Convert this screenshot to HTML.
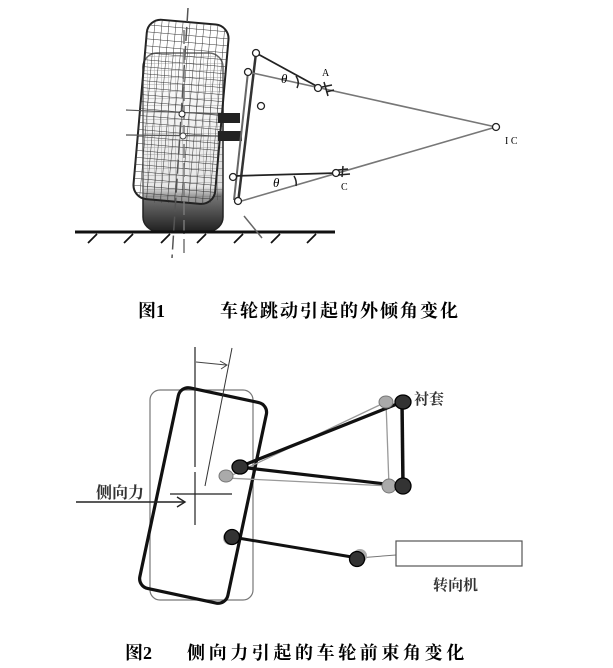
<!DOCTYPE html>
<html><head><meta charset="utf-8"><style>
body{margin:0;background:#fff;width:613px;height:668px;overflow:hidden}
svg{display:block}
text{font-family:"Liberation Serif","Noto Serif CJK SC",serif}
</style></head><body>
<svg width="613" height="668" viewBox="0 0 613 668" xmlns="http://www.w3.org/2000/svg">
<defs>
<pattern id="grid" width="7" height="7" patternUnits="userSpaceOnUse">
<path d="M0 0H7M0 0V7" stroke="#333" stroke-width="1"/>
</pattern>
<linearGradient id="tg" x1="0" y1="0" x2="0" y2="1">
<stop offset="0" stop-color="#fff"/><stop offset="0.75" stop-color="#ddd"/><stop offset="0.8" stop-color="#777"/><stop offset="1" stop-color="#222"/>
</linearGradient>
</defs>
<!-- Figure 1 -->
<rect x="143" y="53" width="80" height="178" rx="14" fill="url(#tg)" stroke="#222" stroke-width="1.5"/>
<rect x="143" y="53" width="80" height="150" rx="14" fill="url(#grid)" opacity="0.6"/>
<g transform="rotate(5 183 112)">
<rect x="140" y="22" width="82" height="180" rx="14" fill="#fff" fill-opacity="0.3" stroke="#222" stroke-width="2"/>
<rect x="140" y="22" width="82" height="180" rx="14" fill="url(#grid)"/>
</g>
<line x1="188" y1="8" x2="172" y2="258" stroke="#555" stroke-width="1.5" stroke-dasharray="14 5"/>
<line x1="184" y1="30" x2="184" y2="258" stroke="#777" stroke-width="1.5" stroke-dasharray="14 5"/>
<line x1="126" y1="110" x2="218" y2="114" stroke="#555" stroke-width="1.2"/>
<line x1="126" y1="135" x2="218" y2="136" stroke="#555" stroke-width="1.2"/>
<circle cx="182" cy="114" r="3" fill="#fff" stroke="#222"/>
<circle cx="183" cy="136" r="3" fill="#fff" stroke="#444"/>
<rect x="218" y="113" width="22" height="10" fill="#222"/>
<rect x="218" y="131" width="24" height="10" fill="#222"/>
<line x1="75" y1="232" x2="335" y2="232" stroke="#111" stroke-width="3"/>
<g stroke="#111" stroke-width="1.8">
<line x1="97" y1="234" x2="88" y2="243"/><line x1="133" y1="234" x2="124" y2="243"/><line x1="170" y1="234" x2="161" y2="243"/><line x1="206" y1="234" x2="197" y2="243"/><line x1="243" y1="234" x2="234" y2="243"/><line x1="280" y1="234" x2="271" y2="243"/><line x1="316" y1="234" x2="307" y2="243"/>
</g>
<line x1="244" y1="216" x2="262" y2="238" stroke="#666" stroke-width="1.5"/>
<line x1="256" y1="53" x2="238" y2="203" stroke="#333" stroke-width="2.5"/>
<line x1="248" y1="72" x2="234" y2="200" stroke="#666" stroke-width="2"/>
<line x1="256" y1="53" x2="320" y2="88" stroke="#222" stroke-width="1.8"/>
<line x1="248" y1="72" x2="496" y2="127" stroke="#777" stroke-width="1.6"/>
<line x1="233" y1="176" x2="338" y2="173" stroke="#222" stroke-width="1.8"/>
<line x1="238" y1="202" x2="496" y2="127" stroke="#777" stroke-width="1.6"/>
<path d="M296 76 Q300 82 297 88" fill="none" stroke="#222" stroke-width="1.5"/>
<path d="M294 176 Q297 181 296 186" fill="none" stroke="#222" stroke-width="1.5"/>
<text x="281" y="83" font-size="13" font-style="italic">θ</text>
<text x="273" y="187" font-size="13" font-style="italic">θ</text>
<circle cx="256" cy="53" r="3.5" fill="#fff" stroke="#222" stroke-width="1.3"/>
<circle cx="248" cy="72" r="3.5" fill="#fff" stroke="#222" stroke-width="1.3"/>
<circle cx="261" cy="106" r="3.5" fill="#fff" stroke="#222" stroke-width="1.3"/>
<circle cx="233" cy="177" r="3.5" fill="#fff" stroke="#222" stroke-width="1.3"/>
<circle cx="238" cy="201" r="3.5" fill="#fff" stroke="#222" stroke-width="1.3"/>
<circle cx="318" cy="88" r="3.5" fill="#fff" stroke="#222" stroke-width="1.3"/>
<circle cx="336" cy="173" r="3.5" fill="#fff" stroke="#222" stroke-width="1.3"/>
<circle cx="496" cy="127" r="3.5" fill="#fff" stroke="#222" stroke-width="1.3"/>
<path d="M324 82 L328 96 M322 87 L332 85 M326 92 L334 90" stroke="#222" stroke-width="1.5"/>
<path d="M343 166 L342 177 M338 170 L348 169 M338 175 L350 174" stroke="#222" stroke-width="1.5"/>
<text x="322" y="76" font-size="10">A</text>
<text x="341" y="190" font-size="10">C</text>
<text x="505" y="144" font-size="10">I C</text>
<text x="138" y="317" font-size="18" font-weight="bold">图1<tspan x="220" letter-spacing="2">车轮跳动引起的外倾角变化</tspan></text>
<!-- Figure 2 -->
<rect x="150" y="390" width="103" height="210" rx="10" fill="none" stroke="#777" stroke-width="1.2"/>
<rect x="158" y="393" width="90" height="205" rx="10" fill="none" stroke="#111" stroke-width="3.2" transform="rotate(12 203 496)"/>
<line x1="195" y1="347" x2="195" y2="467" stroke="#222" stroke-width="1.2"/>
<line x1="195" y1="472" x2="195" y2="525" stroke="#222" stroke-width="1.2"/>
<line x1="232" y1="348" x2="205" y2="486" stroke="#333" stroke-width="1"/>
<path d="M196 362 L226 365" stroke="#444" stroke-width="1" fill="none"/>
<path d="M220 361 L227 365 L221 369" stroke="#444" stroke-width="1" fill="none"/>
<line x1="170" y1="494" x2="232" y2="494" stroke="#222" stroke-width="1.2"/>
<line x1="76" y1="502" x2="184" y2="502" stroke="#222" stroke-width="1.4"/>
<path d="M177 497 L185 502 L177 507" stroke="#222" stroke-width="1.4" fill="none"/>
<text x="96" y="498" font-size="16" font-family="Liberation Sans,Noto Sans CJK SC,sans-serif" font-weight="bold" fill="#333">侧向力</text>
<line x1="226" y1="478" x2="386" y2="402" stroke="#999" stroke-width="1.3"/>
<line x1="386" y1="402" x2="389" y2="486" stroke="#999" stroke-width="1.3"/>
<line x1="226" y1="478" x2="389" y2="486" stroke="#999" stroke-width="1.3"/>
<line x1="239" y1="467" x2="402" y2="402" stroke="#111" stroke-width="3.2"/>
<line x1="239" y1="467" x2="403" y2="486" stroke="#111" stroke-width="3.2"/>
<line x1="402" y1="402" x2="403" y2="486" stroke="#111" stroke-width="3.5"/>
<line x1="232" y1="537" x2="358" y2="558" stroke="#111" stroke-width="3"/>
<line x1="358" y1="558" x2="396" y2="555" stroke="#777" stroke-width="1"/>
<ellipse cx="226" cy="476" rx="7" ry="6" fill="#aaa" stroke="#777"/>
<ellipse cx="386" cy="402" rx="7" ry="6" fill="#aaa" stroke="#777"/>
<ellipse cx="389" cy="486" rx="7" ry="7" fill="#aaa" stroke="#777"/>
<ellipse cx="230" cy="538" rx="7" ry="7" fill="#aaa"/>
<ellipse cx="360" cy="556" rx="7" ry="7" fill="#aaa"/>
<ellipse cx="240" cy="467" rx="8" ry="7" fill="#333" stroke="#000" stroke-width="1.3"/>
<ellipse cx="403" cy="402" rx="8" ry="7" fill="#333" stroke="#000" stroke-width="1.3"/>
<ellipse cx="403" cy="486" rx="8" ry="8" fill="#333" stroke="#000" stroke-width="1.3"/>
<ellipse cx="232" cy="537" rx="7.5" ry="7.5" fill="#333" stroke="#000" stroke-width="1.3"/>
<ellipse cx="357" cy="559" rx="7.5" ry="7.5" fill="#333" stroke="#000" stroke-width="1.3"/>
<text x="414" y="404" font-size="15" font-family="Liberation Sans,Noto Sans CJK SC,sans-serif" font-weight="bold" fill="#333">衬套</text>
<rect x="396" y="541" width="126" height="25" fill="#fff" stroke="#555" stroke-width="1.2"/>
<text x="433" y="590" font-size="15" font-family="Liberation Sans,Noto Sans CJK SC,sans-serif" font-weight="bold" fill="#333">转向机</text>
<text x="125" y="659" font-size="18" font-weight="bold">图2<tspan x="187" letter-spacing="3.6">侧向力引起的车轮前束角变化</tspan></text>
</svg>
</body></html>
